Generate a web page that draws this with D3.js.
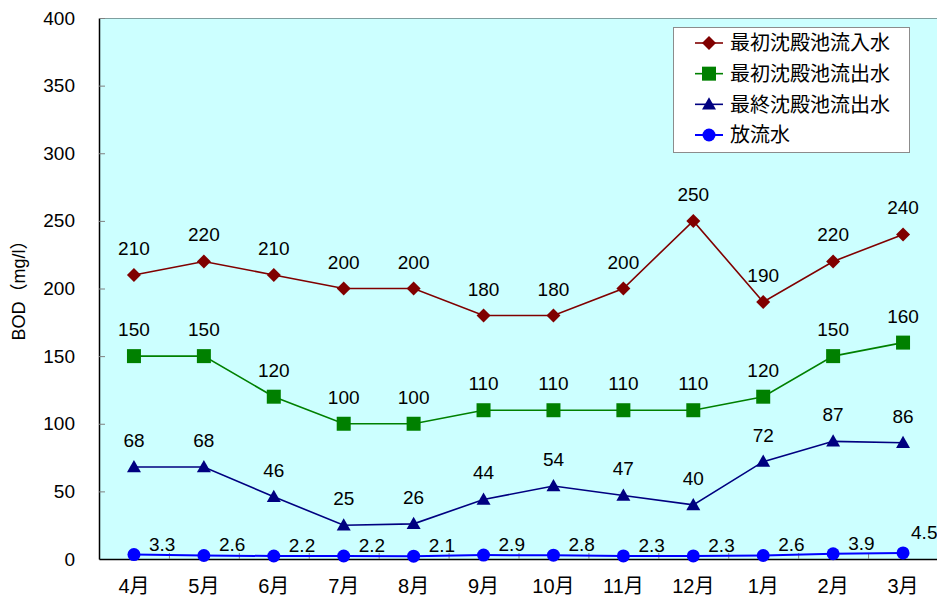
<!DOCTYPE html>
<html>
<head>
<meta charset="utf-8">
<script src="https://cdn.jsdelivr.net/npm/d3@7"></script>
<style>
  html, body { margin: 0; padding: 0; background: #fff; }
  svg text { font-family: "Liberation Sans", "Noto Sans CJK JP", sans-serif; fill: #000; }
</style>
</head>
<body>
<svg id="chart" width="937" height="601"></svg>
<script>
// Monthly BOD (mg/l) at each treatment stage
const months = ["4月", "5月", "6月", "7月", "8月", "9月", "10月", "11月", "12月", "1月", "2月", "3月"];
const seriesNames = ["最初沈殿池流入水", "最初沈殿池流出水", "最終沈殿池流出水", "放流水"];
const primaryInfluent = [210, 220, 210, 200, 200, 180, 180, 200, 250, 190, 220, 240];
const primaryEffluent = [150, 150, 120, 100, 100, 110, 110, 110, 110, 120, 150, 160];
const finalEffluent = [68, 68, 46, 25, 26, 44, 54, 47, 40, 72, 87, 86];
const discharge = [3.3, 2.6, 2.2, 2.2, 2.1, 2.9, 2.8, 2.3, 2.3, 2.6, 3.9, 4.5];
const yTicks = [0, 50, 100, 150, 200, 250, 300, 350, 400];

const styles = [
  { color: "#800000", marker: "diamond", size: 7, label: "above" },
  { color: "#008000", marker: "square", size: 7, label: "above" },
  { color: "#000080", marker: "triangle", size: 7, label: "above" },
  { color: "#0000ff", marker: "circle", size: 6.5, label: "right" }
];
const seriesData = [primaryInfluent, primaryEffluent, finalEffluent, discharge];

const svg = d3.select("#chart");
const plot = { left: 99, top: 18, right: 938, bottom: 559 };

const x = d3.scaleBand().domain(months).range([plot.left, plot.right]);
const cx = m => x(m) + x.bandwidth() / 2;
const y = d3.scaleLinear().domain([0, 400]).range([plot.bottom, plot.top]);

// plot background
svg.append("rect")
  .attr("x", plot.left).attr("y", plot.top)
  .attr("width", plot.right - plot.left).attr("height", plot.bottom - plot.top)
  .attr("fill", "#ccffff");
svg.append("line")
  .attr("x1", plot.left).attr("x2", plot.right)
  .attr("y1", plot.top + 0.5).attr("y2", plot.top + 0.5)
  .attr("stroke", "#7f9f9f").attr("stroke-width", 1);

// y axis with short inward ticks
const yAxis = svg.append("g")
  .attr("transform", `translate(${plot.left},0)`)
  .call(d3.axisLeft(y).tickValues(yTicks).tickSizeInner(-6).tickSizeOuter(0).tickPadding(24));
yAxis.select(".domain").attr("stroke", "#000").attr("stroke-width", 1.5);
yAxis.selectAll(".tick line").attr("stroke", "#808080");
yAxis.selectAll(".tick text").attr("font-size", 19).attr("fill", "#000");

// x axis: category labels and boundary ticks
const xAxis = svg.append("g")
  .attr("transform", `translate(0,${plot.bottom})`)
  .call(d3.axisBottom(x).tickSize(0).tickPadding(20));
xAxis.select(".domain").attr("stroke", "#000").attr("stroke-width", 1.5);
xAxis.selectAll(".tick text").attr("font-size", 20).attr("fill", "#000");
svg.append("g").selectAll("line")
  .data(months.slice(1))
  .join("line")
  .attr("x1", m => x(m) + 0.5).attr("x2", m => x(m) + 0.5)
  .attr("y1", plot.bottom).attr("y2", plot.bottom - 6)
  .attr("stroke", "#808080");

// axis title
svg.append("text")
  .attr("transform", "translate(25,286) rotate(-90)")
  .attr("text-anchor", "middle")
  .attr("font-size", 18)
  .text("BOD（mg/l）");

function drawMarker(g, type, r, color) {
  if (type === "circle") {
    g.append("circle").attr("r", r).attr("fill", color);
    return;
  }
  let pts;
  if (type === "diamond") pts = [[0, -r], [r, 0], [0, r], [-r, 0]];
  else if (type === "square") pts = [[-r, -r], [r, -r], [r, r], [-r, r]];
  else pts = [[0, -r], [r, r * 0.75], [-r, r * 0.75]];
  g.append("path")
    .attr("d", d3.line()(pts) + "Z")
    .attr("fill", color);
}

// each series: line, markers, value labels
seriesData.forEach((vals, si) => {
  const st = styles[si];
  const pts = months.map((m, i) => ({ m, v: vals[i], i }));
  const g = svg.append("g");
  g.append("path")
    .datum(pts)
    .attr("fill", "none")
    .attr("stroke", st.color)
    .attr("stroke-width", si === 3 ? 2 : 1.6)
    .attr("d", d3.line().x(d => cx(d.m)).y(d => y(d.v)));
  pts.forEach(d => {
    const mg = g.append("g").attr("transform", `translate(${cx(d.m)},${y(d.v)})`);
    drawMarker(mg, st.marker, st.size, st.color);
  });
  g.selectAll("text.val")
    .data(pts)
    .join("text")
    .attr("class", "val")
    .attr("font-size", 19)
    .attr("text-anchor", st.label === "above" ? "middle" : "start")
    .attr("x", d => st.label === "above" ? cx(d.m) : cx(d.m) + (d.i === pts.length - 1 ? 8 : 15))
    .attr("y", d => st.label === "above" ? y(d.v) - 20 : y(d.v) - (d.i === pts.length - 1 ? 14 : 4))
    .text(d => d.v);
});

// legend
const legend = svg.append("g");
legend.append("rect")
  .attr("x", 673.5).attr("y", 27.5).attr("width", 236).attr("height", 125)
  .attr("fill", "#fff").attr("stroke", "#8c8c8c");
const rowY = d3.scalePoint().domain(seriesNames).range([43, 135]);
seriesNames.forEach((name, si) => {
  const st = styles[si];
  const ry = rowY(name);
  legend.append("line")
    .attr("x1", 695).attr("x2", 723).attr("y1", ry).attr("y2", ry)
    .attr("stroke", st.color).attr("stroke-width", si === 3 ? 2 : 1.6);
  const mg = legend.append("g").attr("transform", `translate(709,${ry})`);
  drawMarker(mg, st.marker, st.size, st.color);
  legend.append("text")
    .attr("x", 730).attr("y", ry).attr("dy", "0.36em")
    .attr("font-size", 20)
    .text(name);
});
</script>
</body>
</html>
